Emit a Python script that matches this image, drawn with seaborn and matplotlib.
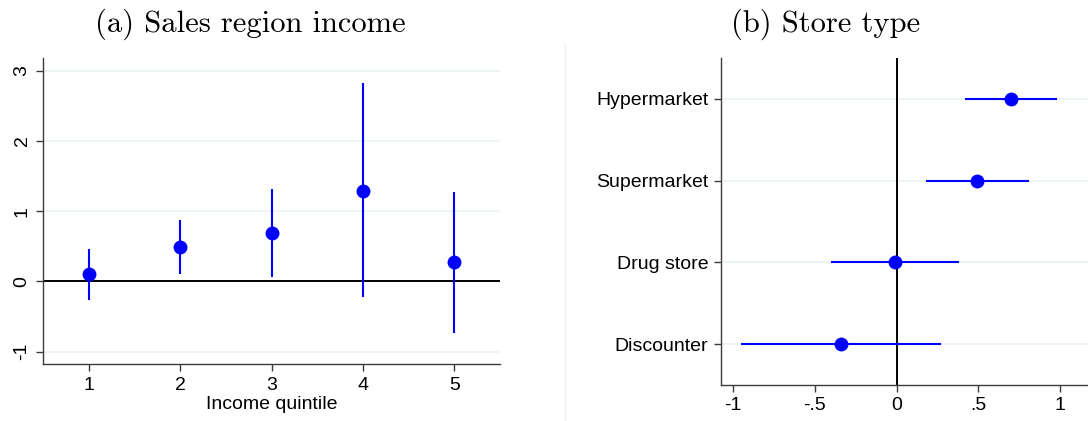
import numpy as np
import pandas as pd
import seaborn as sns
import matplotlib.pyplot as plt
from matplotlib.lines import Line2D

# (a) sales region income
quintile = [1, 2, 3, 4, 5]
income_coef = [0.10, 0.49, 0.69, 1.29, 0.28]
income_lo = [-0.26, 0.10, 0.06, -0.22, -0.73]
income_hi = [0.46, 0.88, 1.32, 2.82, 1.28]

# (b) store type
store = ['Hypermarket', 'Supermarket', 'Drug store', 'Discounter']
store_pos = [4, 3, 2, 1]
store_coef = [0.70, 0.49, -0.01, -0.34]
store_lo = [0.415, 0.18, -0.40, -0.95]
store_hi = [0.98, 0.81, 0.38, 0.27]

sns.set_style('white')
plt.rcParams['font.family'] = ['Liberation Sans', 'DejaVu Sans']
plt.rcParams['text.color'] = 'black'
plt.rcParams['axes.labelcolor'] = 'black'
plt.rcParams['xtick.labelcolor'] = 'black'
plt.rcParams['ytick.labelcolor'] = 'black'

blue = '#0000ff'
grid_col = '#eaf2f3'
spine_col = '#3c3c3c'

fig = plt.figure(figsize=(10.88, 4.21), dpi=100)
W, H = 1088, 421
ax1 = fig.add_axes([43 / W, 1 - 364 / H, (500 - 43) / W, (364 - 58) / H])
ax2 = fig.add_axes([721 / W, 1 - 385 / H, (1088 - 721) / W, (385 - 58) / H])

inc = pd.DataFrame({'q': quintile, 'b': income_coef})
st = pd.DataFrame({'pos': store_pos, 'b': store_coef})

# panel a
for y in [-1, 1, 2, 3]:
    ax1.axhline(y, color=grid_col, lw=1.2, zorder=0)
ax1.axhline(0, color='black', lw=1.4, zorder=1)
ax1.vlines(quintile, income_lo, income_hi, color=blue, lw=1.5, zorder=2)
sns.scatterplot(data=inc, x='q', y='b', ax=ax1, color=blue, s=100,
                edgecolor=blue, linewidth=0, zorder=3)
ax1.set_xlim(0.5, 5.5)
ax1.set_ylim(-1.175, 3.18)
ax1.set_xticks(quintile)
ax1.set_yticks([-1, 0, 1, 2, 3])
ax1.set_yticklabels(['-1', '0', '1', '2', '3'], rotation=90, va='center')
ax1.set_xlabel('Income quintile', fontsize=14, labelpad=2)
ax1.set_ylabel('')

# panel b
for y in store_pos:
    ax2.axhline(y, color=grid_col, lw=1.2, zorder=0)
ax2.axvline(0, color='black', lw=1.4, zorder=1)
ax2.hlines(store_pos, store_lo, store_hi, color=blue, lw=1.5, zorder=2)
sns.scatterplot(data=st, x='b', y='pos', ax=ax2, color=blue, s=100,
                edgecolor=blue, linewidth=0, zorder=3)
ax2.set_xlim(-1.075, 1.17)
ax2.set_ylim(0.5, 4.5)
ax2.set_xticks([-1, -0.5, 0, 0.5, 1])
ax2.set_xticklabels(['-1', '-.5', '0', '.5', '1'])
ax2.set_yticks(store_pos)
ax2.set_yticklabels(store)
ax2.set_xlabel('')
ax2.set_ylabel('')

for ax in (ax1, ax2):
    for s in ('top', 'right'):
        ax.spines[s].set_visible(False)
    for s in ('left', 'bottom'):
        ax.spines[s].set_color(spine_col)
        ax.spines[s].set_linewidth(1.0)
    ax.tick_params(axis='both', which='both', direction='out', length=5,
                   width=1.0, color=spine_col, labelsize=14, pad=4,
                   left=True, bottom=True)

# faint border of the second graph region
fig.add_artist(Line2D([565 / W, 565 / W], [1 - 44 / H, 1 - 421 / H],
                      color='#f0f0f0', lw=1))

fig.text(250 / W, 1 - 24 / H, '(a) Sales region income', family='cmr10',
         fontsize=22, ha='center', va='center')
fig.text(826 / W, 1 - 24 / H, '(b) Store type', family='cmr10',
         fontsize=22, ha='center', va='center')

fig.savefig('out.png', dpi=100)
